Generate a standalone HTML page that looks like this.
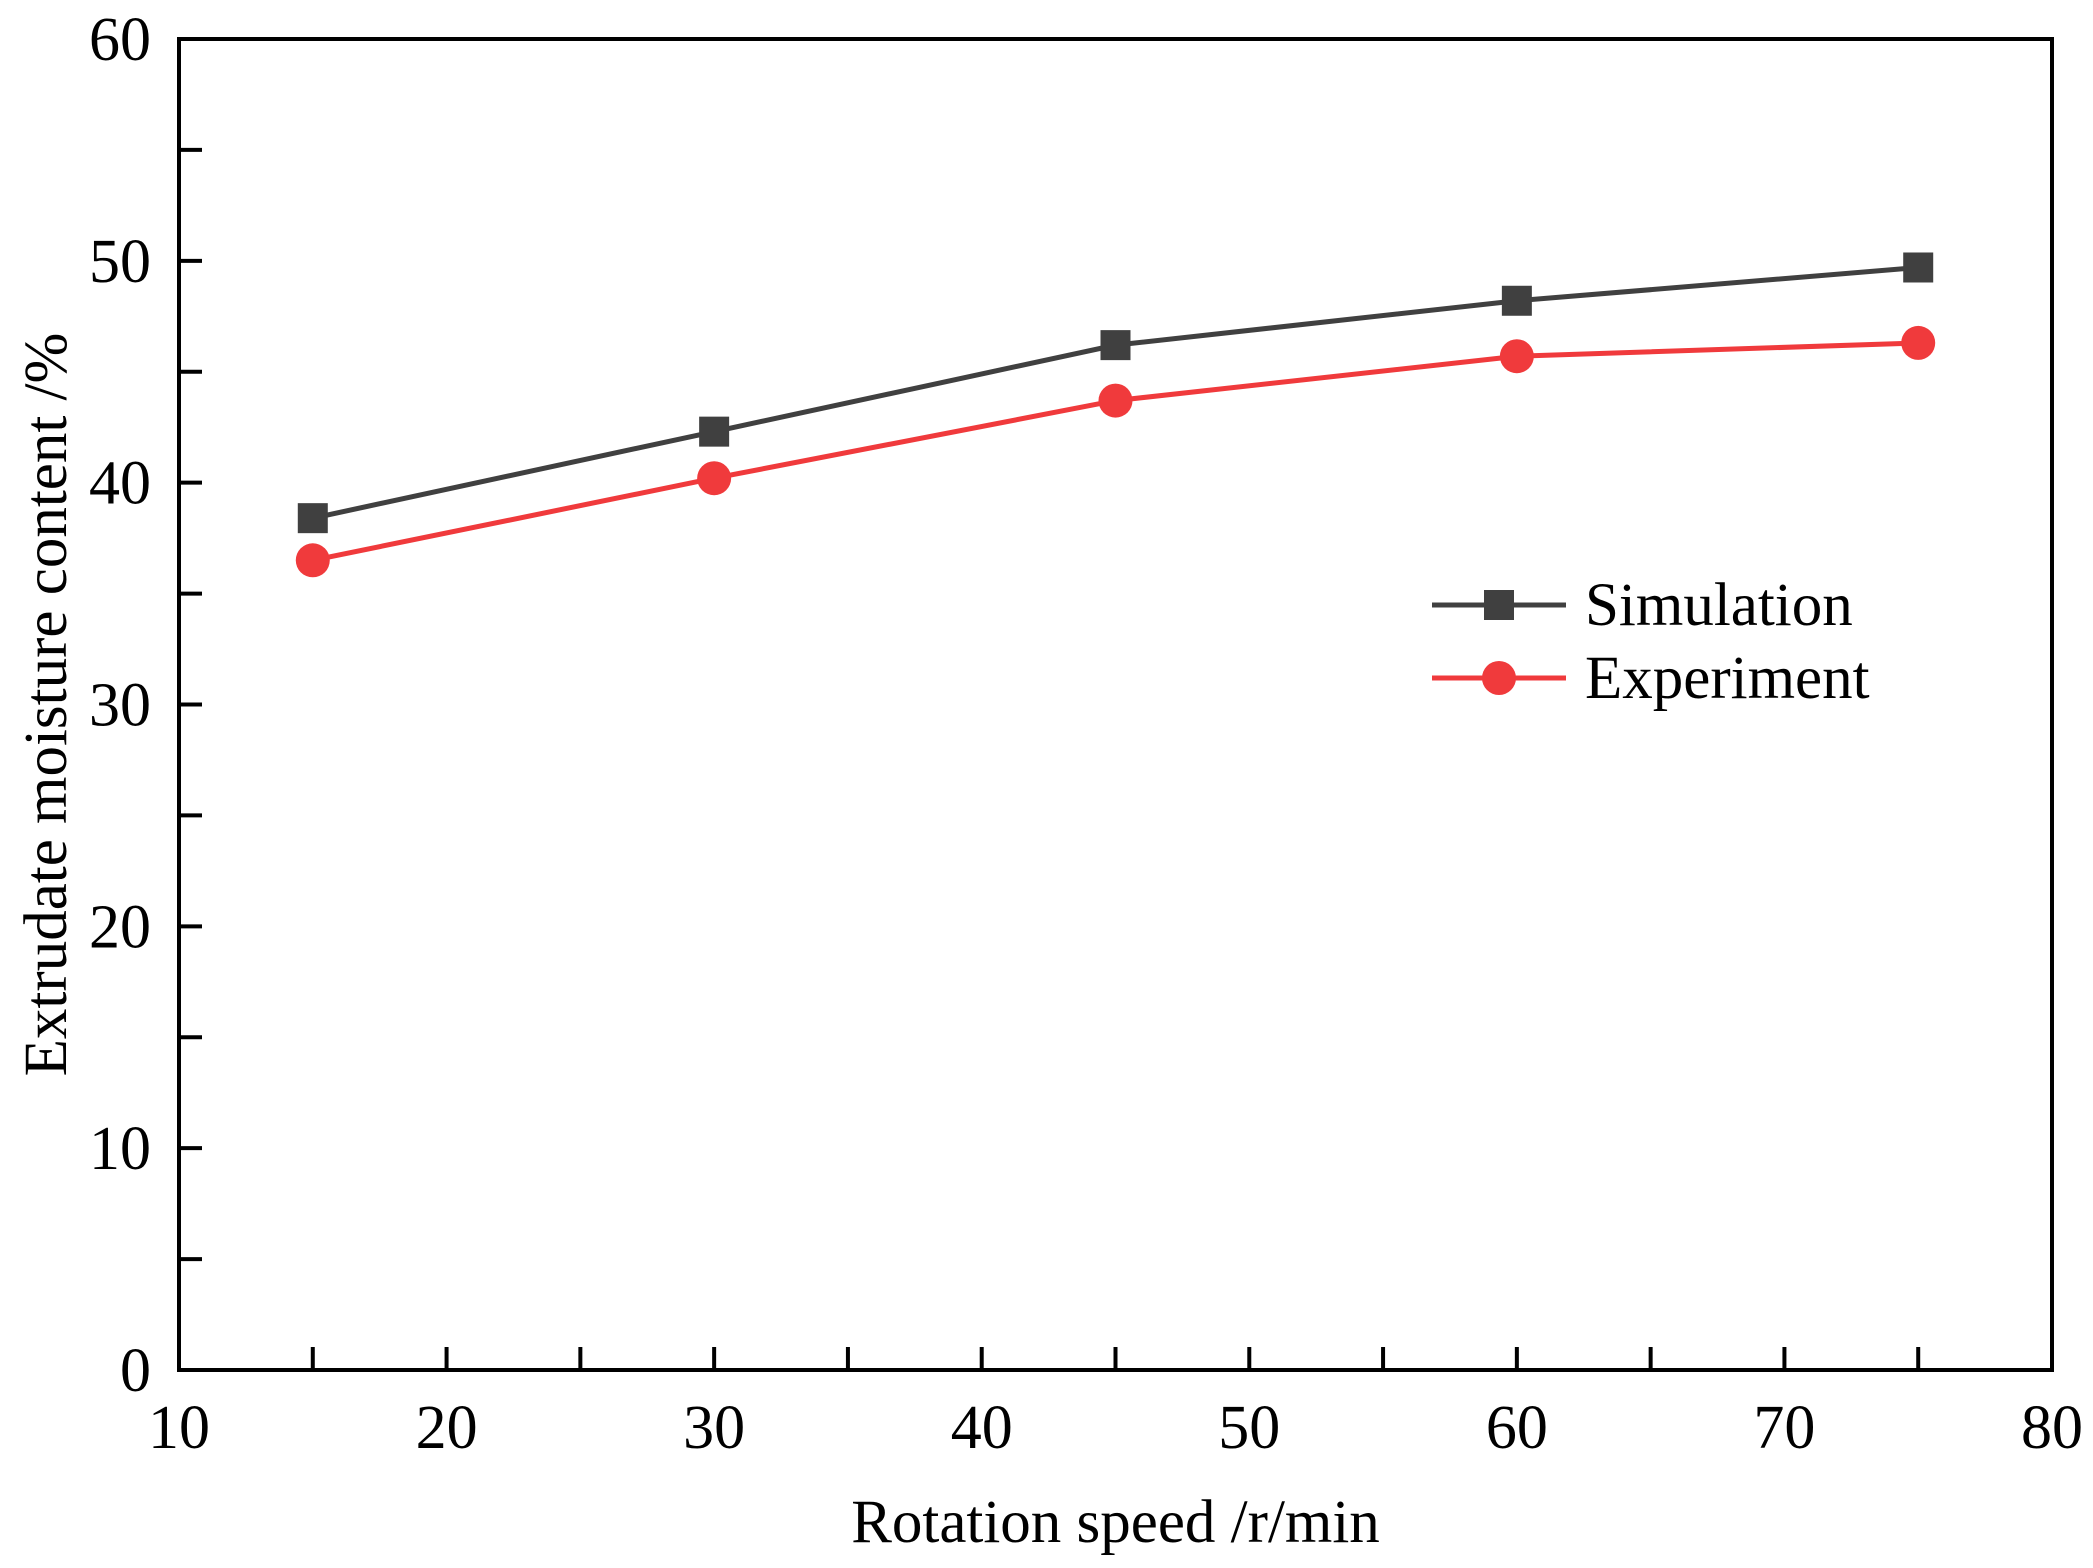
<!DOCTYPE html>
<html><head><meta charset="utf-8"><style>
html,body{margin:0;padding:0;background:#fff;}
svg{display:block;font-family:"Liberation Serif",serif;}
</style></head><body>
<svg id="chart" width="2093" height="1568" viewBox="0 0 2093 1568"></svg>
<script>
const xTicks=[10,20,30,40,50,60,70,80];
const yTicks=[0,10,20,30,40,50,60];
const speeds=[15,30,45,60,75];
const simulation=[38.4,42.3,46.2,48.2,49.7];
const experiment=[36.5,40.2,43.7,45.7,46.3];
const NS='http://www.w3.org/2000/svg';
const svg=document.getElementById('chart');
const L=179,R=2052,T=39,B=1370;
const sx=v=>L+(v-10)/70*(R-L);
const sy=v=>B-v/60*(B-T);
function mk(tag,attrs,parent){const e=document.createElementNS(NS,tag);for(const k in attrs)e.setAttribute(k,attrs[k]);(parent||svg).appendChild(e);return e;}
const axes=mk('g',{});


const frame=mk('rect',{x:L,y:T,width:R-L,height:B-T,fill:'none',stroke:'#000','stroke-width':4},axes);


for(let v=10;v<=80;v+=5){mk('line',{x1:sx(v),x2:sx(v),y1:B,y2:B-23,stroke:'#000','stroke-width':4},axes);}
for(let v=0;v<=60;v+=5){mk('line',{x1:L,x2:L+23,y1:sy(v),y2:sy(v),stroke:'#000','stroke-width':4},axes);}
xTicks.forEach(v=>{const t=mk('text',{x:sx(v),y:1448,'font-size':62,'text-anchor':'middle'},axes);t.textContent=v;

});
yTicks.forEach(v=>{const t=mk('text',{x:151,y:sy(v)+21,'font-size':62,'text-anchor':'end'},axes);t.textContent=v;

});
const xt=mk('text',{x:(L+R)/2,y:1542,'font-size':61,'text-anchor':'middle'});xt.textContent='Rotation speed /r/min';


const yt=mk('text',{x:0,y:0,'font-size':61,'text-anchor':'middle',transform:`translate(66,${(T+B)/2}) rotate(-90)`});yt.textContent='Extrudate moisture content /%';


function series(vals,color,shape,name){
const g=mk('g',{});


const pl=mk('polyline',{points:vals.map((v,i)=>sx(speeds[i])+','+sy(v)).join(' '),fill:'none',stroke:color,'stroke-width':5},g);


vals.forEach((v,i)=>{const m=shape==='sq'?mk('rect',{x:sx(speeds[i])-15,y:sy(v)-15,width:30,height:30,fill:color},g):mk('circle',{cx:sx(speeds[i]),cy:sy(v),r:17,fill:color},g);

});
}
series(simulation,'#404040','sq','simulation');
series(experiment,'#f03a3c','ci','experiment');
const lg=mk('g',{});


[['Simulation','#404040','sq',605],['Experiment','#f03a3c','ci',678]].forEach(([n,c,s,y])=>{
const e=mk('g',{},lg);


mk('line',{x1:1432,x2:1566,y1:y,y2:y,stroke:c,'stroke-width':5},e);
if(s==='sq')mk('rect',{x:1484,y:y-15,width:30,height:30,fill:c},e);else mk('circle',{cx:1499,cy:y,r:17,fill:c},e);
const t=mk('text',{x:1585,y:y+20,'font-size':61},e);t.textContent=n;});
</script>
</body></html>
